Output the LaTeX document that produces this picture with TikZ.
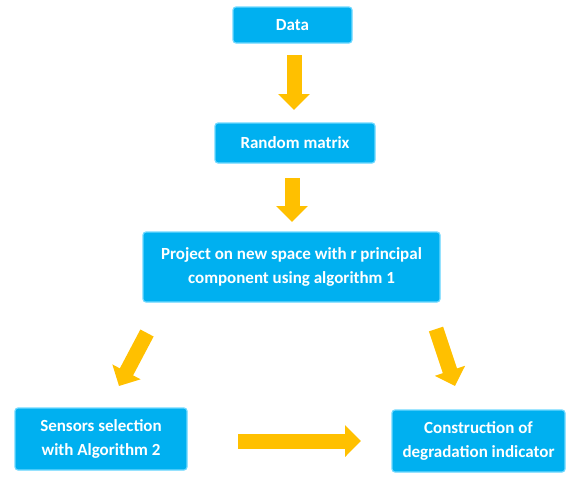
\documentclass[tikz,border=0pt]{standalone}
\usepackage{fontspec}
\setmainfont{Carlito}
\usetikzlibrary{arrows.meta}
\definecolor{boxblue}{HTML}{00B0F0}
\definecolor{boxedge}{HTML}{6FD8FF}
\definecolor{gold}{HTML}{FFC000}
\tikzset{
  stepbox/.style={rectangle, rounded corners=3pt, fill=boxblue, draw=boxedge,
    line width=1.2pt, text=white, font=\fontsize{17}{24}\selectfont\bfseries,
    align=center, inner sep=2pt},
  flowarrow/.style={draw=gold, line width=15pt,
    -{Triangle[width=31pt,length=16pt,fill=gold]}},
}
\begin{document}
\begin{tikzpicture}[x=1pt,y=-1pt]
\useasboundingbox (0,0) rectangle (569,479);

% process boxes
\node[stepbox, minimum width=119pt, minimum height=36pt] (data) at (292.5,25) {Data};
\node[stepbox, minimum width=160pt, minimum height=40pt] (rand) at (295,143) {Random matrix};
\node[stepbox, minimum width=297pt, minimum height=70pt] (proj) at (291.5,267)
  {Project on new space with r principal\\component using algorithm 1};
\node[stepbox, minimum width=172pt, minimum height=62pt] (sens) at (101,439)
  {Sensors selection\\with Algorithm 2};
\node[stepbox, minimum width=173pt, minimum height=62pt] (cons) at (478.5,441)
  {Construction of\\degradation indicator};

% end points of the block arrows
\coordinate (a1s) at (294,55);   \coordinate (a1e) at (294,110);
\coordinate (a2s) at (292,178);  \coordinate (a2e) at (292,222);
\coordinate (a3s) at (147,333);  \coordinate (a3e) at (119,386);
\coordinate (a4s) at (436,329);  \coordinate (a4e) at (455,386);
\coordinate (a5s) at (238,441);  \coordinate (a5e) at (361,441);

\draw[flowarrow] (a1s) -- (a1e);
\draw[flowarrow] (a2s) -- (a2e);
\draw[flowarrow] (a3s) -- (a3e);
\draw[flowarrow] (a4s) -- (a4e);
\draw[flowarrow] (a5s) -- (a5e);
\end{tikzpicture}
\end{document}
